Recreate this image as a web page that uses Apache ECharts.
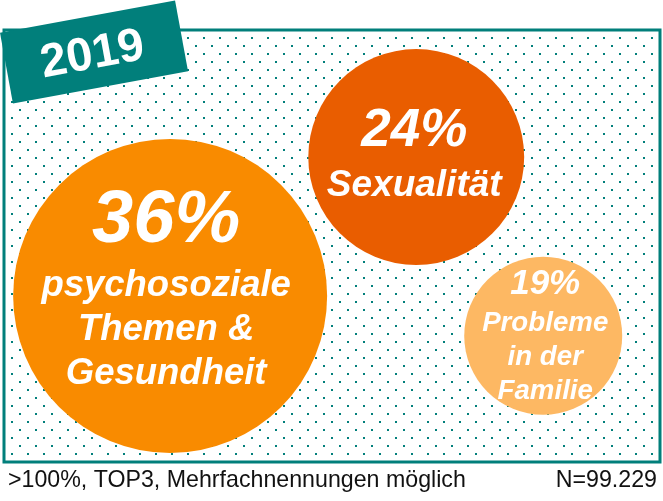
<!DOCTYPE html>
<html>
<head>
<meta charset="utf-8">
<script src="https://cdn.jsdelivr.net/npm/echarts@6/dist/echarts.min.js"></script>
<style>
html,body{margin:0;padding:0;background:#fff;}
#chart{width:663px;height:501px;}
</style>
</head>
<body>
<div id="chart"></div>
<script>
// ---- data ----
const year = '2019';
const categories = ['psychosoziale Themen & Gesundheit', 'Sexualität', 'Probleme in der Familie'];
const labelLines = [['psychosoziale', 'Themen &', 'Gesundheit'], ['Sexualität'], ['Probleme', 'in der', 'Familie']];
const shares = [36, 24, 19];           // percent
const bubbleX = [25.4, 62.8, 82.1];    // layout position in data space (0-100)
const bubbleY = [38.5, 70.5, 29.3];
const footnote = '>100%, TOP3, Mehrfachnennungen möglich';
const sampleNote = 'N=99.229';

// ---- styles ----
const TEAL = '#017F7B';
const bubbleColors = ['#F98B00', '#E95D00', '#FDB863'];
const FONT = '"Liberation Sans", Arial, Helvetica, sans-serif';
const minD = 158, maxD = 314;
const vMin = Math.min.apply(null, shares), vMax = Math.max.apply(null, shares);
function bubbleDiameter(v) {
  const a = minD * minD + (v - vMin) / (vMax - vMin) * (maxD * maxD - minD * minD);
  return Math.sqrt(a);
}
const labelOffsets = [[-4, -8], [-2, -1], [2, 0]];
const pctSize = [[74, 85], [53, 60], [35, 44]];
const txtSize = [[36.5, 44], [37, 50], [27.7, 34]];

// dotted pattern tile
const tile = document.createElement('canvas');
tile.width = 16; tile.height = 16;
const tctx = tile.getContext('2d');
tctx.fillStyle = TEAL;
tctx.fillRect(11, 5, 2, 2);
tctx.fillRect(3, 13, 2, 2);

const rich = {};
for (let i = 0; i < shares.length; i++) {
  rich['p' + i] = { color: '#fff', fontFamily: FONT, fontWeight: 'bold', fontStyle: 'italic', fontSize: pctSize[i][0], lineHeight: pctSize[i][1], align: 'center' };
  rich['t' + i] = { color: '#fff', fontFamily: FONT, fontWeight: 'bold', fontStyle: 'italic', fontSize: txtSize[i][0], lineHeight: txtSize[i][1], align: 'center' };
}

const seriesData = shares.map(function (v, i) {
  return {
    name: categories[i],
    value: [bubbleX[i], bubbleY[i], v],
    itemStyle: { color: bubbleColors[i] },
    label: { offset: labelOffsets[i] }
  };
});

const chart = echarts.init(document.getElementById('chart'), null, { renderer: 'canvas' });
const rot = 10.4 * Math.PI / 180;

chart.setOption({
  animation: false,
  backgroundColor: '#fff',
  grid: { left: 3, right: 2, top: 29, bottom: 38 },
  xAxis: { type: 'value', min: 0, max: 100, show: false },
  yAxis: { type: 'value', min: 0, max: 100, show: false },
  graphic: [
    {
      type: 'rect', z: -10, silent: true,
      shape: { x: 4, y: 30, width: 656, height: 432 },
      style: { fill: { image: tile, repeat: 'repeat' }, stroke: TEAL, lineWidth: 3 }
    },
    {
      type: 'group', x: 94, y: 52, rotation: rot, z: 100,
      children: [
        { type: 'rect', shape: { x: -89, y: -36, width: 178, height: 72 }, style: { fill: TEAL } },
        { type: 'text', x: -2, y: 3, style: { text: year, fill: '#fff', font: 'bold 47px ' + FONT, textAlign: 'center', textVerticalAlign: 'middle' } }
      ]
    },
    {
      type: 'text', x: 8, y: 481, z: 100,
      style: { text: footnote, fill: '#111', font: '23.2px ' + FONT, textAlign: 'left', textVerticalAlign: 'middle' }
    },
    {
      type: 'text', x: 657, y: 481, z: 100,
      style: { text: sampleNote, fill: '#111', font: '23.2px ' + FONT, textAlign: 'right', textVerticalAlign: 'middle' }
    }
  ],
  series: [{
    type: 'scatter',
    clip: false,
    symbol: 'circle',
    symbolSize: function (val) { return bubbleDiameter(val[2]); },
    data: seriesData,
    itemStyle: { opacity: 1 },
    emphasis: { disabled: true },
    label: {
      show: true,
      position: 'inside',
      formatter: function (p) {
        const i = p.dataIndex;
        let s = '{p' + i + '|' + shares[i] + '%}';
        labelLines[i].forEach(function (l) { s += '\n{t' + i + '|' + l + '}'; });
        return s;
      },
      rich: rich
    }
  }]
});
</script>
</body>
</html>
